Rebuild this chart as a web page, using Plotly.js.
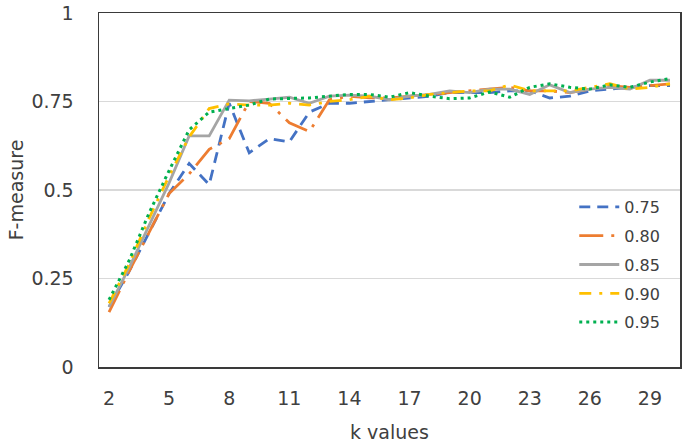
<!DOCTYPE html>
<html>
<head>
<meta charset="utf-8">
<script src="https://cdn.plot.ly/plotly-3.0.1.min.js"></script>
<style>html,body{margin:0;padding:0;background:#fff;}#chart{width:685px;height:444px;}</style>
</head>
<body>
<div id="chart"></div>
<script>
const kValues = [2,3,4,5,6,7,8,9,10,11,12,13,14,15,16,17,18,19,20,21,22,23,24,25,26,27,28,29,30];
const seriesNames = ["0.75","0.80","0.85","0.90","0.95"];
const f075 = [0.17,0.27,0.38,0.49,0.575,0.515,0.745,0.605,0.645,0.636,0.72,0.745,0.745,0.75,0.755,0.76,0.765,0.775,0.775,0.775,0.78,0.78,0.76,0.765,0.78,0.785,0.79,0.795,0.795];
const f080 = [0.155,0.27,0.38,0.49,0.545,0.615,0.645,0.75,0.745,0.69,0.665,0.755,0.765,0.76,0.76,0.765,0.77,0.775,0.78,0.785,0.79,0.78,0.78,0.775,0.785,0.795,0.79,0.795,0.80];
const f085 = [0.17,0.28,0.40,0.52,0.653,0.653,0.754,0.752,0.757,0.762,0.745,0.765,0.768,0.765,0.755,0.765,0.77,0.78,0.775,0.785,0.785,0.77,0.797,0.775,0.785,0.79,0.785,0.81,0.81];
const f090 = [0.18,0.29,0.42,0.54,0.65,0.73,0.743,0.74,0.74,0.745,0.74,0.75,0.755,0.765,0.755,0.76,0.77,0.775,0.78,0.78,0.797,0.78,0.78,0.78,0.79,0.80,0.785,0.79,0.80];
const f095 = [0.19,0.30,0.435,0.555,0.67,0.72,0.73,0.74,0.757,0.758,0.76,0.765,0.77,0.77,0.762,0.775,0.765,0.758,0.76,0.777,0.762,0.79,0.80,0.79,0.785,0.797,0.79,0.805,0.815];
const xTicks = [2,5,8,11,14,17,20,23,26,29];
const yTicks = [0,0.25,0.5,0.75,1];
const yTickText = ["0","0.25","0.5","0.75","1"];

const allSeries = [f075,f080,f085,f090,f095];
const colors = ["#4472C4","#ED7D31","#A5A5A5","#FFC000","#00B050"];
const dashes = ["11px,7px","24px,8px,3px,8px","solid","12px,8px,3px,8px","3px,4px"];
const widths = [2.8,2.8,2.8,2.8,3];

const traces = allSeries.map((ys,i)=>({
  x:kValues, y:ys, type:"scatter", mode:"lines", name:seriesNames[i],
  legendgroup:"g"+i,
  line:{color:colors[i], width:widths[i], dash:dashes[i]}
}));

const font = "DejaVu Sans, sans-serif";
const layout = {
  width:685, height:444,
  margin:{l:99, r:5, t:13, b:77},
  paper_bgcolor:"#fff", plot_bgcolor:"#fff",
  showlegend:true,
  legend:{x:0.818, y:0.50, xanchor:"left", yanchor:"top", bgcolor:"rgba(0,0,0,0)",
    font:{family:font, size:16, color:"#404040"}, traceorder:"grouped", tracegroupgap:5, itemwidth:40},
  xaxis:{range:[1.5,30.5], tickvals:xTicks, ticktext:xTicks.map(String), showgrid:false, zeroline:false,
    showline:true, mirror:true, linecolor:"#3a3a3a", linewidth:1.5, ticks:"", ticklabelstandoff:14,
    tickfont:{family:font, size:19, color:"#404040"},
    title:{text:"k values", font:{family:font, size:19, color:"#404040"}, standoff:17}, automargin:false},
  yaxis:{range:[0,1], tickvals:yTicks, ticktext:yTickText, showgrid:true, gridcolor:"#D9D9D9", gridwidth:1.3,
    zeroline:false, showline:true, mirror:true, linecolor:"#3a3a3a", linewidth:1.5, ticks:"", ticklabelstandoff:20,
    tickfont:{family:font, size:19, color:"#404040"},
    title:{text:"F-measure", font:{family:font, size:19, color:"#404040"}, standoff:2}, automargin:false}
};
Plotly.newPlot("chart", traces, layout, {displayModeBar:false, staticPlot:true});
</script>
</body>
</html>
